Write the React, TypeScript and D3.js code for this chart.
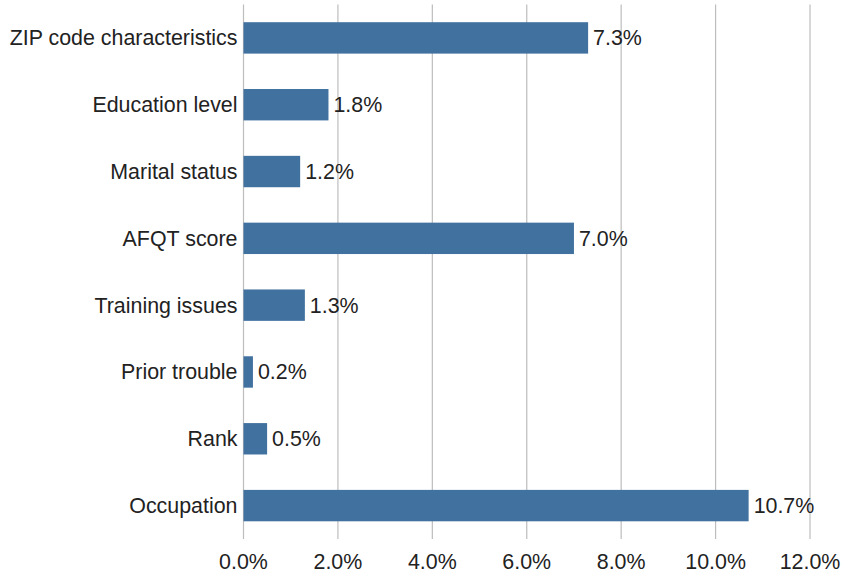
import * as d3 from "d3";

const categories = [
  "ZIP code characteristics",
  "Education level",
  "Marital status",
  "AFQT score",
  "Training issues",
  "Prior trouble",
  "Rank",
  "Occupation",
];
const values = [7.3, 1.8, 1.2, 7.0, 1.3, 0.2, 0.5, 10.7];
const xTicks = [0, 2, 4, 6, 8, 10, 12];

const width = 852;
const height = 574;
const margin = { top: 4.5, right: 42, bottom: 35, left: 243.5 };
const font = "'Liberation Sans', Arial, Helvetica, sans-serif";
const fs = 21.4;

export default function App() {
  const x = d3
    .scaleLinear()
    .domain([0, 12])
    .range([margin.left, width - margin.right]);
  const y = d3
    .scaleBand<string>()
    .domain(categories)
    .range([margin.top, height - margin.bottom])
    .paddingInner(0.53)
    .paddingOuter(0.265);
  const data = categories.map((c, i) => ({ c, v: values[i] }));

  return (
    <svg
      width={width}
      height={height}
      style={{ position: "absolute", left: 0, top: 0 }}
      fontFamily={font}
    >
      <rect width={width} height={height} fill="#fff" />
      {xTicks.map((t) => (
        <line
          key={t}
          x1={x(t)}
          x2={x(t)}
          y1={margin.top}
          y2={height - margin.bottom}
          stroke="#bdbdbd"
          strokeWidth={1.2}
        />
      ))}
      {data.map((d) => (
        <g key={d.c}>
          <rect
            x={x(0)}
            y={y(d.c)}
            width={x(d.v) - x(0)}
            height={y.bandwidth()}
            fill="#41729f"
          />
          <text
            x={x(0) - 6}
            y={y(d.c)! + y.bandwidth() / 2}
            dy="0.35em"
            textAnchor="end"
            fontSize={fs}
            fill="#222"
          >
            {d.c}
          </text>
          <text
            x={x(d.v) + 5}
            y={y(d.c)! + y.bandwidth() / 2}
            dy="0.35em"
            fontSize={fs}
            fill="#222"
          >
            {d.v.toFixed(1)}%
          </text>
        </g>
      ))}
      {xTicks.map((t) => (
        <text
          key={t}
          x={x(t)}
          y={height - margin.bottom + 23}
          dy="0.35em"
          textAnchor="middle"
          fontSize={fs}
          fill="#222"
        >
          {t.toFixed(1)}%
        </text>
      ))}
    </svg>
  );
}
